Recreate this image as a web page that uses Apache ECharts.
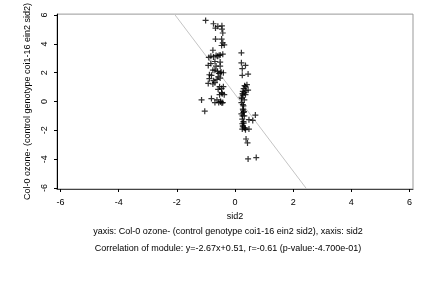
<!DOCTYPE html>
<html><head><meta charset="utf-8">
<script src="https://cdn.jsdelivr.net/npm/echarts@6/dist/echarts.min.js"></script>
<style>html,body{margin:0;padding:0;background:#fff}#c{width:432px;height:288px}</style>
</head><body><div id="c"></div>
<script>
var xTicks = [-6, -4, -2, 0, 2, 4, 6];
var yTicks = [-6, -4, -2, 0, 2, 4, 6];
var xName = 'sid2';
var yName = 'Col-0 ozone- (control genotype coi1-16 ein2 sid2)';
var caption1 = 'yaxis: Col-0 ozone- (control genotype coi1-16 ein2 sid2), xaxis: sid2';
var caption2 = 'Correlation of module: y=-2.67x+0.51, r=-0.61 (p-value:-4.700e-01)';
var slope = -2.67, intercept = 0.51;
var xRange = [-6.12, 6.12];
var yRange = [-6.07, 6.07];
var pointsX = [
 -1.01,-0.74,-0.59,-0.45,-0.67,-0.45,-0.42,-0.67,-0.46,-0.42,-0.37,-0.46,-0.76,-0.51,-0.42,-0.65,-0.83,-0.74,-0.90,
 -0.69,-0.51,-0.83,-0.92,-0.65,-0.51,-0.76,-0.69,-0.49,-0.40,-0.88,-0.81,-0.58,-0.51,-0.62,-0.88,-0.74,-0.92,-0.69,
 -0.76,-0.53,-0.40,-0.46,-0.58,-0.46,-0.53,-0.37,-1.15,-0.81,-0.62,-0.49,-0.42,-0.56,-0.69,-1.04,
 -0.48,-0.55,-0.60,-0.44,-0.50,-0.45,-0.60,-0.55,
 0.22,0.22,0.36,0.25,0.25,0.45,0.41,0.36,0.27,0.45,0.32,0.36,0.27,0.22,0.32,0.22,0.27,0.27,0.29,0.22,0.32,0.70,
 0.48,0.61,0.25,0.29,0.25,0.27,0.32,0.25,0.36,0.48,0.38,0.43,0.45,0.73,
 0.30,0.38,0.26,0.33,0.28,0.31,0.26,0.30,0.27,0.35,0.24,0.29
];
var pointsY = [
 5.63,5.40,5.22,5.26,5.10,5.03,4.76,4.34,4.34,4.07,3.93,3.89,3.56,3.24,3.29,3.20,3.15,3.10,3.06,
 2.78,2.74,2.64,2.51,2.46,2.46,2.18,2.18,2.00,2.00,1.86,1.82,1.72,1.63,1.54,1.59,1.45,1.26,1.31,
 1.22,1.03,1.03,0.90,0.85,0.62,0.48,0.48,0.11,0.21,0.11,-0.02,-0.07,-0.07,-0.07,-0.67,
 2.05,1.95,2.10,0.55,0.00,-0.10,3.15,3.20,
 3.38,2.69,2.51,2.28,1.82,1.91,1.17,1.03,0.71,0.80,0.62,0.48,0.44,0.30,0.11,-0.07,-0.21,-0.53,-0.76,-0.85,-0.99,-0.94,
 -1.26,-1.31,-1.22,-1.40,-1.54,-1.68,-1.82,-1.91,-1.95,-1.91,-2.60,-2.87,-3.98,-3.89,
 0.90,0.75,0.55,1.10,-0.60,-0.70,-1.00,-1.50,-1.75,-1.85,0.20,-0.30
];
var pts = pointsX.map(function(x, i){ return [x, pointsY[i]]; });
var lineData = [[(yRange[1] - intercept) / slope, yRange[1]], [(yRange[0] - intercept) / slope, yRange[0]]];
var FONT = 'Liberation Sans';
var FS = 9;
var chart = echarts.init(document.getElementById('c'));
chart.setOption({
  animation: false,
  backgroundColor: '#fff',
  grid: { left: 57, right: 19, top: 13, bottom: 99, show: true, borderColor: '#999', borderWidth: 1, backgroundColor: 'transparent' },
  xAxis: {
    type: 'value', min: xRange[0], max: xRange[1],
    name: xName, nameLocation: 'middle', nameGap: 22,
    nameTextStyle: { fontFamily: FONT, fontSize: FS, color: '#000' },
    axisLine: { show: true, onZero: false, lineStyle: { color: '#444', width: 1 } },
    axisTick: { show: true, length: 3, customValues: xTicks, lineStyle: { color: '#000' } },
    axisLabel: { customValues: xTicks, fontFamily: FONT, fontSize: FS, color: '#000', margin: 9 },
    splitLine: { show: false }
  },
  yAxis: {
    type: 'value', min: yRange[0], max: yRange[1],
    name: yName, nameLocation: 'middle', nameGap: 20,
    nameTextStyle: { fontFamily: FONT, fontSize: FS, color: '#000' },
    axisLine: { show: true, onZero: false, lineStyle: { color: '#000', width: 1 } },
    axisTick: { show: true, length: 3, customValues: yTicks, lineStyle: { color: '#000' } },
    axisLabel: { customValues: yTicks, rotate: 90, fontFamily: FONT, fontSize: FS, color: '#000', margin: 8 },
    splitLine: { show: false }
  },
  series: [
    { type: 'line', data: lineData, symbol: 'none', lineStyle: { color: '#c4c4c4', width: 1 }, z: 1 },
    { type: 'scatter', data: pts, symbol: 'path://M4,0h2v4h4v2h-4v4h-2v-4h-4v-2h4z', symbolSize: 6,
      itemStyle: { color: '#000' }, z: 2 }
  ],
  graphic: [
    { type: 'text', x: 228, y: 227, style: { text: caption1, textAlign: 'center', fontFamily: FONT, fontSize: FS, fill: '#000' } },
    { type: 'text', x: 228, y: 244, style: { text: caption2, textAlign: 'center', fontFamily: FONT, fontSize: FS, fill: '#000' } }
  ]
});
</script>
</body></html>
